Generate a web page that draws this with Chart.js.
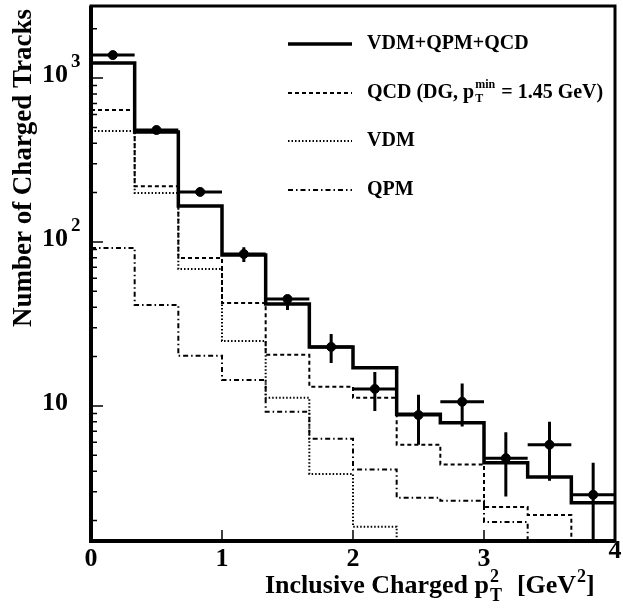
<!DOCTYPE html>
<html>
<head>
<meta charset="utf-8">
<script src="https://cdn.jsdelivr.net/npm/chart.js@4.4.1/dist/chart.umd.min.js"></script>
<style>
  html, body { margin: 0; padding: 0; background: #fff; }
  #wrap { width: 623px; height: 610px; }
</style>
</head>
<body>
<div id="wrap"><canvas id="ptChart" width="623" height="610"></canvas></div>
<script>
// bins in pT^2 (GeV^2)
const binEdges = [0, 1/3, 2/3, 1, 4/3, 5/3, 2, 7/3, 8/3, 3, 10/3, 11/3, 4];

// model histograms (tracks per bin); 1 = below the plotted range
const totalModel = [1233, 469, 166, 83.4, 41.9, 22.9, 17.1, 8.9, 7.9, 4.5, 3.69, 2.57];
const qcdModel   = [638, 219, 79.8, 42.5, 20.5, 13.1, 11.2, 5.8, 4.4, 2.42, 2.16, 1];
const vdmModel   = [475, 199, 68.4, 24.9, 11.2, 3.85, 1.83, 1, 1, 1, 1, 1];
const qpmModel   = [91.9, 41.3, 20.2, 14.4, 9.2, 6.3, 4.1, 2.75, 2.64, 1.96, 1, 1];

// measured counts with error bars
const dataCounts = [1380, 482, 202, 84.5, 44.9, 22.9, 12.7, 8.8, 10.6, 4.8, 5.8, 2.87];
const dataHigh   = [1430, 500, 212, 93, 47.5, 27.5, 16.1, 11.7, 13.7, 6.9, 8.0, 4.5];
const dataLow    = [1335, 465, 193, 75.5, 38.5, 18.3, 9.3, 5.8, 7.5, 2.8, 3.5, 1.0];

const xTickValues = [0, 1, 2, 3, 4];
const yDecades = [10, 100, 1000];
const yDecadeExp = ['', '2', '3'];

const serif = '"Liberation Serif", "Times New Roman", serif';

function histPoints(vals) {
    const pts = vals.map((v, i) => ({ x: binEdges[i], y: v }));
    pts.push({ x: binEdges[vals.length], y: vals[vals.length - 1] });
    return pts;
}

const binCenters = dataCounts.map((_, i) => (binEdges[i] + binEdges[i + 1]) / 2);

// text with a stacked sub/superscript part
function drawRich(ctx, x, y, parts, size) {
    let cx = x;
    parts.forEach(p => {
        if (p.t) {
            ctx.font = 'bold ' + size + 'px ' + serif;
            ctx.fillText(p.t, cx, y);
            cx += ctx.measureText(p.t).width;
        } else {
            const small = Math.round(size * (p.scale || 0.62));
            ctx.font = 'bold ' + small + 'px ' + serif;
            let w = 0;
            if (p.sub) {
                ctx.fillText(p.sub, cx + 1, y + size * 0.32);
                w = Math.max(w, ctx.measureText(p.sub).width);
            }
            if (p.sup) {
                ctx.fillText(p.sup, cx + 1, y - size * 0.42);
                w = Math.max(w, ctx.measureText(p.sup).width);
            }
            cx += w + 2 + (p.gap || 0);
        }
    });
}

const legendRows = [
    { ds: 0, parts: [{ t: 'VDM+QPM+QCD' }] },
    { ds: 1, parts: [{ t: 'QCD (DG, p' }, { sub: 'T', sup: 'min' }, { t: ' = 1.45 GeV)' }] },
    { ds: 2, parts: [{ t: 'VDM' }] },
    { ds: 3, parts: [{ t: 'QPM' }] }
];

const framePlugin = {
    id: 'frame',
    beforeDatasetsDraw(chart) {
        // error bars of the measurement
        const { ctx, scales: { x, y }, chartArea: a } = chart;
        ctx.save();
        ctx.beginPath();
        ctx.rect(a.left, a.top, a.right - a.left, a.bottom - a.top);
        ctx.clip();
        ctx.strokeStyle = '#000';
        ctx.lineWidth = 3;
        dataCounts.forEach((v, i) => {
            const px = x.getPixelForValue(binCenters[i]);
            const py = y.getPixelForValue(v);
            ctx.beginPath();
            ctx.moveTo(x.getPixelForValue(binEdges[i]), py);
            ctx.lineTo(x.getPixelForValue(binEdges[i + 1]), py);
            ctx.moveTo(px, y.getPixelForValue(dataHigh[i]));
            ctx.lineTo(px, y.getPixelForValue(dataLow[i]));
            ctx.stroke();
        });
        ctx.restore();
    },
    afterDraw(chart) {
        const { ctx, scales: { x, y }, chartArea: a } = chart;
        ctx.save();
        ctx.fillStyle = '#000';
        ctx.strokeStyle = '#000';

        // inward ticks
        ctx.lineWidth = 1.5;
        ctx.beginPath();
        xTickValues.slice(1, -1).forEach(v => {
            const px = x.getPixelForValue(v);
            ctx.moveTo(px, a.bottom);
            ctx.lineTo(px, a.bottom - 11);
        });
        for (let d = 1; d <= 1000; d *= 10) {
            for (let m = 1; m <= 9; m++) {
                const v = d * m;
                if (v < y.min || v > y.max) continue;
                const py = y.getPixelForValue(v);
                ctx.moveTo(a.left, py);
                ctx.lineTo(a.left + (m === 1 ? 12 : 6), py);
            }
        }
        ctx.stroke();

        // frame: heavier on the two axes
        ctx.lineWidth = 3;
        ctx.strokeRect(a.left, a.top, a.right - a.left, a.bottom - a.top);
        ctx.lineWidth = 4;
        ctx.beginPath();
        ctx.moveTo(a.left, a.top);
        ctx.lineTo(a.left, a.bottom);
        ctx.lineTo(a.right, a.bottom);
        ctx.stroke();

        // x tick labels
        ctx.font = 'bold 26px ' + serif;
        ctx.textAlign = 'center';
        ctx.textBaseline = 'middle';
        xTickValues.forEach((v, i) => {
            const lift = i === xTickValues.length - 1 ? 8 : 0;
            ctx.fillText(String(v), x.getPixelForValue(v), a.bottom + 18 - lift);
        });

        // y tick labels 10, 10^2, 10^3
        yDecades.forEach((v, i) => {
            const py = y.getPixelForValue(v) - 3;
            ctx.textAlign = 'right';
            ctx.font = 'bold 26px ' + serif;
            ctx.fillText('10', 68, py);
            if (yDecadeExp[i]) {
                ctx.textAlign = 'left';
                ctx.font = 'bold 19px ' + serif;
                ctx.fillText(yDecadeExp[i], 71, py - 13);
            }
        });

        // axis titles
        ctx.textAlign = 'left';
        ctx.textBaseline = 'alphabetic';
        drawRich(ctx, 265, 593, [
            { t: 'Inclusive Charged p' }, { sub: 'T', sup: '2', gap: 14, scale: 0.7 },
            { t: '[GeV' }, { sup: '2', gap: -1, scale: 0.7 }, { t: ']' }
        ], 26);

        ctx.save();
        ctx.translate(31, 168);
        ctx.rotate(-Math.PI / 2);
        ctx.textAlign = 'center';
        ctx.font = 'bold 27px ' + serif;
        ctx.fillText('Number of Charged Tracks', 0, 0);
        ctx.restore();

        // legend
        ctx.textBaseline = 'middle';
        const rowY = [44, 93, 141, 190];
        legendRows.forEach((row, i) => {
            const ds = chart.data.datasets[row.ds];
            ctx.save();
            ctx.lineWidth = ds.borderWidth;
            ctx.setLineDash(ds.borderDash || []);
            ctx.beginPath();
            ctx.moveTo(288, rowY[i]);
            ctx.lineTo(352, rowY[i]);
            ctx.stroke();
            ctx.restore();
            ctx.textAlign = 'left';
            drawRich(ctx, 367, rowY[i], row.parts, 20);
        });
        ctx.restore();
    }
};

const histStyle = {
    stepped: true,
    fill: false,
    pointRadius: 0,
    borderColor: '#000',
    borderCapStyle: 'butt'
};

new Chart(document.getElementById('ptChart').getContext('2d'), {
    type: 'line',
    data: {
        datasets: [
            { ...histStyle, label: 'VDM+QPM+QCD', data: histPoints(totalModel), borderWidth: 3.5 },
            { ...histStyle, label: 'QCD', data: histPoints(qcdModel), borderWidth: 2, borderDash: [4, 3] },
            { ...histStyle, label: 'VDM', data: histPoints(vdmModel), borderWidth: 2, borderDash: [1.5, 2] },
            { ...histStyle, label: 'QPM', data: histPoints(qpmModel), borderWidth: 2, borderDash: [5, 3, 1.5, 3] },
            {
                label: 'Data',
                data: dataCounts.map((v, i) => ({ x: binCenters[i], y: v })),
                showLine: false,
                pointRadius: 4.5,
                pointBackgroundColor: '#000',
                pointBorderColor: '#000'
            }
        ]
    },
    options: {
        responsive: false,
        animation: false,
        layout: { padding: { left: 91, right: 8, top: 6, bottom: 69 } },
        plugins: {
            legend: { display: false },
            tooltip: { enabled: false }
        },
        scales: {
            x: { type: 'linear', min: 0, max: 4, display: false },
            y: { type: 'logarithmic', min: 1.5, max: 2750, display: false }
        }
    },
    plugins: [framePlugin]
});
</script>
</body>
</html>
